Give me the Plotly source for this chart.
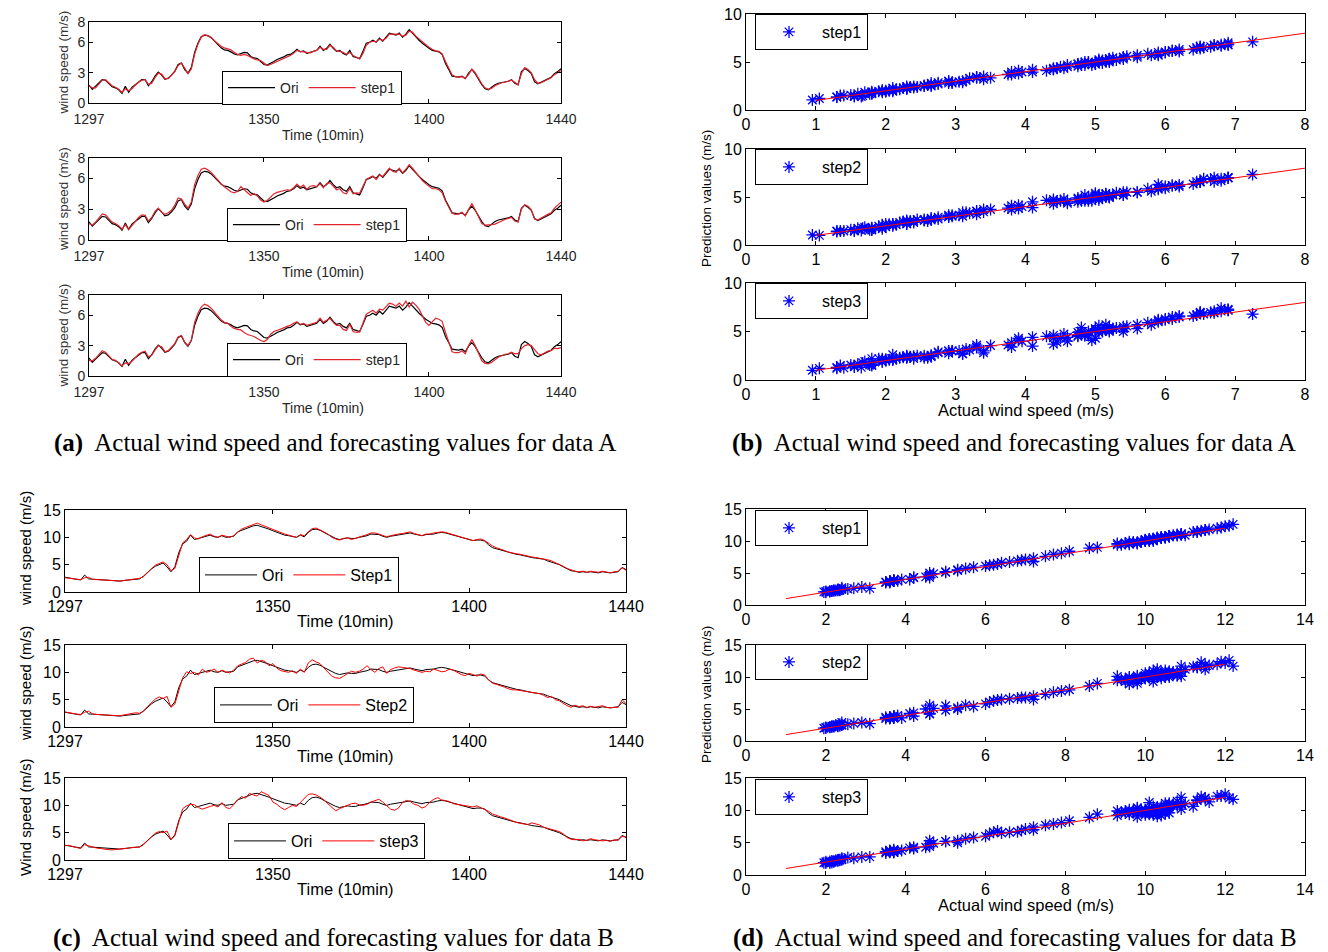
import plotly.graph_objects as go

W, H = 1328, 952

# ---------------- data ----------------
time_index = list(range(1297, 1441))
time_ticks = [1297, 1350, 1400, 1440]

# Data A: observed series (10-min steps 1297..1440)
ori_a = [
    1.77, 1.35, 1.67, 2.0, 2.3, 2.25, 1.95, 1.6, 1.5, 1.3,
    0.95, 1.65, 1.05, 1.55, 1.8, 2.1, 2.3, 2.3, 1.7, 2.1,
    2.65, 3.05, 2.75, 2.35, 2.45, 2.75, 3.15, 3.8, 3.95, 3.3,
    2.95, 3.5, 5.0, 5.9, 6.55, 6.7, 6.65, 6.45, 6.1, 5.75,
    5.45, 5.25, 5.2, 5.05, 4.85, 4.75, 4.85, 5.0, 4.95, 4.6,
    4.45, 4.4, 4.1, 3.8, 3.75, 3.9, 4.1, 4.3, 4.4, 4.55,
    4.75, 4.8, 5.0, 5.3, 5.05, 5.15, 4.9, 5.0, 5.15, 5.2,
    5.6, 5.2, 5.4, 5.8, 5.4, 5.1, 5.2, 4.9, 4.75, 5.2,
    4.6, 4.5, 4.4, 5.1, 5.9, 6.0, 6.2, 6.0, 6.4, 6.1,
    6.5, 6.9, 6.8, 6.7, 6.9, 6.5, 6.8, 7.25, 6.9, 6.5,
    6.2, 5.9, 5.6, 5.4, 5.2, 5.15, 5.05, 4.8, 3.9, 3.3,
    2.65, 2.6, 2.55, 2.65, 2.4, 2.95, 3.3, 2.9, 2.3, 1.8,
    1.4, 1.3, 1.55, 1.8, 1.95, 2.0, 2.1, 2.15, 2.3, 1.95,
    1.8, 3.1, 3.4, 3.2, 2.9, 2.1, 1.9, 2.05, 2.2, 2.4,
    2.55, 2.9, 3.1, 3.4,
]

# Data A: one-step forecasts from the three models
pred_a_1 = [
    1.7, 1.5, 1.5, 1.9, 2.25, 2.3, 2.0, 1.7, 1.55, 1.35,
    1.05, 1.4, 1.2, 1.4, 1.75, 2.05, 2.25, 2.3, 1.85, 1.95,
    2.5, 2.95, 2.85, 2.4, 2.4, 2.7, 3.1, 3.7, 3.95, 3.45,
    2.9, 3.35, 4.8, 5.8, 6.5, 6.75, 6.6, 6.5, 6.15, 5.85,
    5.6, 5.45, 5.35, 5.25, 5.0, 4.8, 4.7, 4.8, 4.7, 4.5,
    4.35, 4.25, 4.2, 3.95, 3.7, 3.8, 3.95, 4.1, 4.25, 4.35,
    4.55, 4.7, 4.9, 5.2, 5.1, 5.05, 4.95, 4.95, 5.1, 5.2,
    5.5, 5.3, 5.3, 5.7, 5.5, 5.15, 5.1, 5.0, 4.8, 5.0,
    4.7, 4.5, 4.35, 4.9, 5.7, 6.0, 6.1, 6.05, 6.3, 6.2,
    6.4, 6.8, 6.8, 6.75, 6.8, 6.6, 6.7, 7.1, 7.0, 6.6,
    6.3, 6.0, 5.7, 5.5, 5.3, 5.15, 5.1, 4.85, 4.1, 3.4,
    2.8, 2.6, 2.55, 2.6, 2.45, 2.8, 3.35, 3.0, 2.45, 1.9,
    1.5, 1.35, 1.45, 1.7, 1.85, 2.0, 2.05, 2.15, 2.25, 2.05,
    1.8, 2.9, 3.5, 3.3, 3.0, 2.3, 1.95, 2.0, 2.15, 2.35,
    2.5, 2.8, 3.0, 3.2,
]

pred_a_2 = [
    1.6, 1.45, 1.75, 2.2, 2.55, 2.45, 2.1, 1.75, 1.6, 1.4,
    1.05, 1.5, 1.0, 1.45, 1.8, 2.2, 2.45, 2.4, 1.85, 2.2,
    2.8, 3.1, 2.7, 2.5, 2.65, 2.9, 3.4, 4.1, 4.0, 3.5,
    3.1, 3.7, 5.4, 6.3, 6.9, 7.0, 6.85, 6.6, 6.2, 5.85,
    5.5, 5.2, 4.95, 4.7, 4.6, 4.75, 5.2, 4.9, 4.6, 4.35,
    4.55, 4.3, 3.9, 3.7, 3.85, 4.15, 4.5, 4.65, 4.75, 4.8,
    4.9, 4.85, 5.1, 5.45, 5.15, 5.35, 4.95, 5.25, 5.3, 5.2,
    5.5, 5.1, 5.5, 5.6, 5.2, 4.9, 5.0, 4.6, 4.5, 5.05,
    4.5, 4.6, 4.55, 5.2, 5.9, 6.1, 6.25, 5.9, 6.35, 6.2,
    6.6, 7.0, 6.7, 6.6, 7.0, 6.55, 6.9, 7.35, 7.0, 6.6,
    6.1, 5.8, 5.5, 5.2, 5.0, 5.0, 4.9, 4.6, 3.8, 3.2,
    2.6, 2.5, 2.55, 2.7, 2.35, 3.0, 3.55, 2.95, 2.2, 1.6,
    1.45, 1.45, 1.5, 1.55, 1.7, 1.9, 2.0, 2.1, 2.2, 1.85,
    1.75, 3.0, 3.45, 3.3, 2.95, 2.05, 1.95, 2.15, 2.35, 2.5,
    2.65, 3.1, 3.4, 3.7,
]

pred_a_3 = [
    1.55, 1.5, 1.75, 2.15, 2.5, 2.35, 2.0, 1.65, 1.55, 1.3,
    1.0, 1.3, 1.2, 1.45, 1.75, 2.15, 2.35, 2.45, 1.9, 2.05,
    2.55, 3.0, 2.9, 2.4, 2.5, 2.8, 3.2, 3.85, 4.0, 3.35,
    3.0, 3.55, 5.3, 6.2, 6.8, 7.1, 6.95, 6.7, 6.3, 5.9,
    5.55, 5.3, 5.2, 4.9, 4.7, 4.6, 4.55, 4.3, 4.1, 4.0,
    3.9, 3.7, 3.5, 3.4, 3.6, 4.1, 4.4, 4.5, 4.6, 4.75,
    4.9, 5.0, 5.2, 5.35, 5.1, 5.2, 5.0, 5.1, 5.25, 5.3,
    5.7, 5.3, 5.5, 5.7, 5.3, 5.0, 5.0, 4.6, 4.5, 5.1,
    4.4, 4.3, 4.35, 5.2, 6.1, 6.3, 6.5, 6.2, 6.6, 6.5,
    6.9, 7.2, 7.1, 6.9, 7.2, 6.9, 7.4, 6.8, 7.3, 7.0,
    6.6, 6.0, 5.3, 5.0, 5.4, 5.7, 5.6, 5.4, 4.3, 3.4,
    2.4, 2.3, 2.3, 2.5, 2.2, 3.0, 3.6, 3.0, 2.3, 1.5,
    1.25, 1.2, 1.35, 1.6, 1.85, 2.0, 2.15, 2.2, 2.35, 2.2,
    2.2, 2.7, 3.0, 3.1, 3.0, 2.6, 2.2, 2.1, 2.3, 2.45,
    2.5, 2.75, 2.7, 2.8,
]

# Data B: observed series
ori_b = [
    2.7, 2.55, 2.4, 2.3, 2.2, 3.1, 2.4, 2.35, 2.3, 2.2,
    2.15, 2.1, 2.0, 1.95, 2.0, 2.1, 2.15, 2.25, 2.35, 2.4,
    2.9, 3.6, 4.2, 4.7, 5.0, 5.3, 4.6, 3.7, 4.6, 7.2,
    8.8, 9.3, 10.4, 9.6, 9.8, 10.0, 10.2, 10.4, 10.1, 10.0,
    10.3, 10.0, 10.1, 10.2, 11.0, 11.3, 11.6, 11.9, 12.1, 12.2,
    12.0, 11.8, 11.5, 11.2, 10.9, 10.6, 10.4, 10.3, 10.2, 10.0,
    10.4, 10.1, 10.9, 11.4, 11.5, 11.3, 10.9, 10.5, 10.2, 9.8,
    9.6, 9.7, 9.9, 9.8, 9.8, 10.0, 10.1, 10.3, 10.6, 10.6,
    10.5, 10.2, 10.0, 10.2, 10.3, 10.5, 10.6, 10.7, 10.8, 10.6,
    10.4, 10.3, 10.5, 10.5, 10.6, 10.8, 10.9, 10.8, 10.6, 10.3,
    10.1, 9.9, 9.7, 9.6, 9.4, 9.5, 9.5, 9.3, 8.6, 8.1,
    7.9, 7.7, 7.5, 7.2, 7.0, 6.9, 6.8, 6.6, 6.4, 6.3,
    6.2, 6.1, 6.0, 5.7, 5.5, 5.3, 5.0, 4.6, 4.2, 3.9,
    3.8, 3.6, 3.7, 3.6, 3.7, 3.6, 3.5, 3.7, 3.6, 3.5,
    3.6, 3.7, 4.5, 4.1,
]

# Data B: 1-, 2- and 3-step forecasts
pred_b_1 = [
    2.6, 2.5, 2.45, 2.35, 2.25, 2.6, 2.7, 2.3, 2.3, 2.25,
    2.2, 2.15, 2.1, 2.05, 2.0, 2.1, 2.2, 2.25, 2.35, 2.5,
    2.8, 3.5, 4.3, 4.9, 5.2, 5.5, 5.0, 3.9, 4.3, 6.8,
    9.0, 9.6, 10.5, 9.9, 9.7, 10.1, 10.4, 10.6, 10.2, 10.0,
    10.4, 10.2, 10.0, 10.3, 10.9, 11.5, 11.8, 12.1, 12.4, 12.6,
    12.3, 12.0, 11.7, 11.4, 11.1, 10.8, 10.6, 10.4, 10.2, 10.0,
    10.5, 10.3, 11.0, 11.6, 11.7, 11.4, 11.0, 10.6, 10.0, 9.7,
    9.5, 9.8, 9.9, 9.6, 9.8, 10.1, 10.2, 10.5, 10.8, 10.8,
    10.6, 10.3, 10.1, 10.3, 10.5, 10.6, 10.7, 10.9, 11.0, 10.7,
    10.5, 10.3, 10.6, 10.6, 10.8, 10.9, 11.0, 10.9, 10.7, 10.4,
    10.2, 10.0, 9.8, 9.6, 9.4, 9.6, 9.7, 9.4, 8.9, 8.4,
    8.1, 7.9, 7.6, 7.3, 7.1, 7.0, 6.9, 6.7, 6.6, 6.4,
    6.3, 6.2, 6.1, 5.9, 5.7, 5.4, 5.1, 4.7, 4.3, 4.0,
    3.8, 3.7, 3.8, 3.6, 3.8, 3.7, 3.6, 3.8, 3.7, 3.5,
    3.7, 3.8, 4.4, 4.0,
]

pred_b_2 = [
    2.75, 2.6, 2.5, 2.35, 2.3, 2.7, 2.9, 2.4, 2.3, 2.25,
    2.2, 2.15, 2.1, 2.0, 2.05, 2.2, 2.3, 2.5, 2.6, 2.5,
    2.9, 3.7, 4.4, 5.1, 5.5, 5.2, 5.6, 3.6, 4.2, 6.5,
    9.0, 10.1, 9.8, 10.0, 9.5, 10.6, 10.0, 10.2, 10.6, 10.0,
    10.4, 10.1, 9.9, 10.4, 11.2, 11.5, 11.8, 12.4, 12.6, 11.7,
    12.2, 12.0, 11.2, 11.6, 10.8, 10.3, 10.2, 10.0, 10.3, 9.8,
    10.6, 10.0, 11.7, 12.3, 11.9, 11.6, 10.8, 10.0, 9.3, 9.0,
    8.9, 9.3, 9.8, 10.2, 10.0, 10.2, 10.6, 11.2, 10.5, 10.0,
    10.7, 11.0, 9.8, 10.5, 10.8, 11.0, 10.9, 10.8, 10.7, 10.4,
    10.2, 10.0, 10.2, 10.1, 10.6, 10.3, 10.1, 10.2, 10.6, 10.4,
    10.0, 9.6, 9.4, 9.8, 9.6, 9.3, 9.7, 9.5, 8.6, 8.0,
    7.8, 7.6, 7.3, 7.0, 6.8, 6.8, 6.7, 6.6, 6.5, 6.4,
    6.3, 6.1, 5.8, 5.4, 5.6, 5.0, 4.8, 4.3, 3.9, 3.6,
    4.0, 3.7, 3.9, 3.5, 3.8, 3.6, 3.7, 3.9, 3.6, 3.5,
    3.6, 3.6, 5.0, 4.3,
]

pred_b_3 = [
    2.6, 2.7, 2.45, 2.3, 2.1, 2.8, 2.6, 2.35, 2.2, 2.1,
    1.95, 1.9, 1.85, 1.9, 2.05, 2.1, 2.15, 2.3, 2.3, 2.35,
    2.8, 3.5, 4.3, 4.9, 5.2, 5.0, 5.3, 3.8, 4.4, 7.0,
    9.4, 9.9, 10.2, 10.1, 9.6, 9.3, 9.6, 9.8, 10.0, 9.7,
    10.5, 9.6, 9.4, 10.1, 11.0, 11.6, 11.3, 12.2, 11.9, 11.7,
    12.5, 12.2, 11.8, 10.6, 10.2, 9.6, 9.2, 9.6, 10.0, 9.8,
    10.6, 11.2, 12.0, 12.1, 11.9, 11.5, 11.0, 10.3, 9.6, 9.0,
    9.4, 9.7, 9.9, 10.3, 10.4, 10.1, 10.0, 10.2, 10.6, 10.9,
    11.1, 10.6, 10.0, 9.3, 9.1, 9.5, 10.5, 10.9, 10.7, 10.2,
    10.0, 9.5, 9.8, 10.6, 11.1, 11.4, 11.0, 10.9, 10.7, 10.3,
    10.2, 10.1, 9.9, 9.8, 9.7, 9.9, 9.6, 9.2, 8.9, 8.4,
    8.1, 7.9, 7.7, 7.4, 7.1, 6.9, 6.7, 6.6, 6.5, 6.8,
    6.6, 6.4, 6.0, 5.8, 5.6, 5.3, 5.2, 4.8, 4.1, 3.8,
    3.7, 3.8, 3.5, 3.6, 3.9, 3.7, 3.6, 3.5, 3.6, 3.4,
    3.7, 3.6, 4.3, 4.2,
]

# reference diagonal (prediction = actual)
diag_a = [1, 8]
diag_b = [1, 12]

labels_a_ts = ["step1", "step1", "step1"]
labels_a_sc = ["step1", "step2", "step3"]
labels_b_ts = ["Step1", "Step2", "step3"]
labels_b_sc = ["step1", "step2", "step3"]
ytitle_a = ["wind speed (m/s)", "wind speed (m/s)", "wind speed (m/s)"]
ytitle_b = ["wind speed (m/s)", "wind speed (m/s)", "Wind speed (m/s)"]

captions = [
    ("(a)", "Actual wind speed and forecasting values for data A"),
    ("(b)", "Actual wind speed and forecasting values for data A"),
    ("(c)", "Actual wind speed and forecasting values for data B"),
    ("(d)", "Actual wind speed and forecasting values for data B"),
]

# ---------------- layout helpers ----------------
SANS = "Liberation Sans, Arial, sans-serif"
SERIF = "Liberation Serif, Times New Roman, serif"


def xdom(x0, x1):
    return [x0 / W, x1 / W]


def ydom(top, bottom):
    return [1 - bottom / H, 1 - top / H]


def px(x):
    return x / W


def py(y):
    return 1 - y / H


fig = go.Figure()
layout = dict(
    width=W, height=H, margin=dict(l=0, r=0, t=0, b=0, autoexpand=False),
    paper_bgcolor="white", plot_bgcolor="white",
    showlegend=True, annotations=[],
)

a_rows = [(22, 103), (158, 240), (295, 376)]
b_rows = [(14, 110), (149, 245), (283, 380)]
c_rows = [(510, 592), (645, 727), (778, 860)]
d_rows = [(509, 605), (645, 741), (778, 875)]
# legend boxes: left edge, vertical centre
a_leg = [(222, 88), (227, 225), (227, 360)]
b_leg = [(755, 32), (755, 167), (755, 301)]
c_leg = [(199, 575), (214, 705), (228, 841)]
d_leg = [(755, 528), (755, 662), (755, 797)]

preds_a = [pred_a_1, pred_a_2, pred_a_3]
preds_b = [pred_b_1, pred_b_2, pred_b_3]

subplots = []
for i in range(3):
    subplots.append(dict(kind="ts", xpx=(89, 561), ypx=a_rows[i], ori=ori_a, pred=preds_a[i],
                         label=labels_a_ts[i], yr=[0, 8], yt=[0, 3, 6, 8], leg=a_leg[i],
                         red="#e3262e", fs=14, lfs=14, tc="#262626", iw=47, lw=1.2, xso=3))
for i in range(3):
    subplots.append(dict(kind="sc", xpx=(746, 1305), ypx=b_rows[i], ori=ori_a, pred=preds_a[i],
                         label=labels_a_sc[i], xr=[0, 8], xt=list(range(0, 9)), yr=[0, 10],
                         yt=[0, 5, 10], leg=b_leg[i], diag=diag_a, fs=16, lfs=16))
for i in range(3):
    subplots.append(dict(kind="ts", xpx=(65, 626), ypx=c_rows[i], ori=ori_b, pred=preds_b[i],
                         label=labels_b_ts[i], yr=[0, 15], yt=[0, 5, 10, 15], leg=c_leg[i],
                         red="#ff0000", fs=16, lfs=16, tc="#000000", iw=52, lw=1))
for i in range(3):
    subplots.append(dict(kind="sc", xpx=(746, 1305), ypx=d_rows[i], ori=ori_b, pred=preds_b[i],
                         label=labels_b_sc[i], xr=[0, 14], xt=list(range(0, 15, 2)), yr=[0, 15],
                         yt=[0, 5, 10, 15], leg=d_leg[i], diag=diag_b, fs=16, lfs=16))

for k, sp in enumerate(subplots, start=1):
    sfx = "" if k == 1 else str(k)
    xa, ya, lg = "x" + sfx, "y" + sfx, "legend" + sfx
    ts = sp["kind"] == "ts"
    fs = sp["fs"]
    tc = sp.get("tc", "#000000")
    axis_common = dict(
        showline=True, linecolor="black", linewidth=1, mirror="ticks",
        ticks="inside", ticklen=4, tickcolor="black", tickwidth=1,
        showgrid=False, zeroline=False, fixedrange=True, automargin=False,
        tickfont=dict(family=SANS, size=fs, color=tc),
    )
    if ts:
        fig.add_trace(go.Scatter(x=time_index, y=sp["ori"], mode="lines", name="Ori",
                                 line=dict(color="black", width=sp["lw"]),
                                 xaxis=xa, yaxis=ya, legend=lg))
        fig.add_trace(go.Scatter(x=time_index, y=sp["pred"], mode="lines", name=sp["label"],
                                 line=dict(color=sp["red"], width=sp["lw"]),
                                 xaxis=xa, yaxis=ya, legend=lg))
        xr, xt = [1297, 1440], time_ticks
    else:
        fig.add_trace(go.Scatter(x=sp["ori"], y=sp["pred"], mode="markers", name=sp["label"],
                                 marker=dict(symbol="asterisk-open", size=10, color="#0000ff",
                                             line=dict(color="#0000ff", width=1.3)),
                                 xaxis=xa, yaxis=ya, legend=lg))
        fig.add_trace(go.Scatter(x=sp["diag"], y=sp["diag"], mode="lines", showlegend=False,
                                 line=dict(color="#ff0000", width=1), xaxis=xa, yaxis=ya))
        xr, xt = sp["xr"], sp["xt"]

    layout["xaxis" + sfx] = dict(axis_common, domain=xdom(*sp["xpx"]), range=xr,
                                 tickvals=xt, anchor=ya, ticklabelstandoff=sp.get("xso", 0))
    layout["yaxis" + sfx] = dict(axis_common, domain=ydom(*sp["ypx"]), range=sp["yr"],
                                 tickvals=sp["yt"], anchor=xa)

    lx, ly = sp["leg"]
    leg = dict(x=px(lx), y=py(ly), xanchor="left", yanchor="middle",
               bgcolor="white", bordercolor="black", borderwidth=1,
               font=dict(family=SANS, size=sp["lfs"], color=tc))
    if ts:
        leg.update(orientation="h", itemwidth=sp["iw"])
    else:
        leg.update(orientation="v", itemwidth=56)
    layout[lg] = leg

ann = layout["annotations"]


def text(x, y, s, size=13, color="#000", angle=0, family=SANS):
    ann.append(dict(x=px(x), y=py(y), xref="paper", yref="paper", text=s,
                    showarrow=False, textangle=angle, xanchor="center", yanchor="middle",
                    font=dict(family=family, size=size, color=color)))


# panel (a) axis titles
for i, (top, bot) in enumerate(a_rows):
    text(63, (top + bot) / 2, ytitle_a[i], size=13.5, color="#333", angle=-90)
    text(323, bot + 32, "Time (10min)", size=14, color="#262626")

# panel (c) axis titles
for i, (top, bot) in enumerate(c_rows):
    text(25, (top + bot) / 2 - 2, ytitle_b[i], size=15, angle=-90)
    text(345, bot + 29, "Time (10min)", size=16.5)

# panels (b) and (d)
text(706, 198, "Prediction values (m/s)", size=13.5, angle=-90)
text(1026, 410, "Actual wind speed (m/s)", size=16.5)
text(706, 694, "Prediction values (m/s)", size=13.5, angle=-90)
text(1026, 905, "Actual wind speed (m/s)", size=16.5)

# captions
cap_pos = [(335, 443), (1014, 443), (333, 938), (1015, 938)]
for (tag, s), (cx, cy) in zip(captions, cap_pos):
    text(cx, cy, "<b>" + tag + "</b>  " + s, size=25, family=SERIF)

fig.update_layout(**layout)
fig.write_html("out.html")
